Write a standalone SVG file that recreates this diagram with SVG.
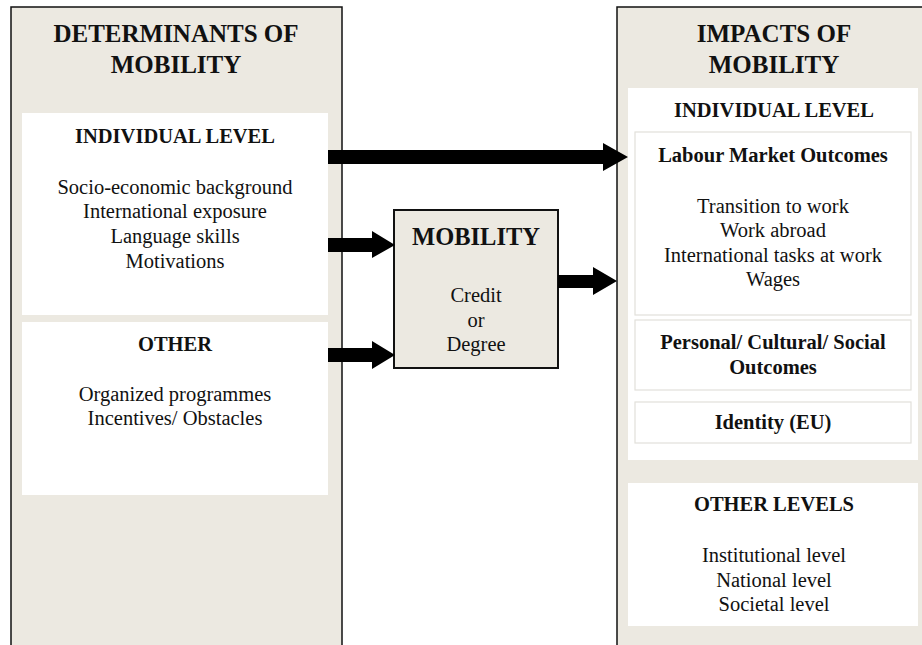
<svg xmlns="http://www.w3.org/2000/svg" width="922" height="645" viewBox="0 0 922 645" font-family="Liberation Serif, serif">
<style>
text{fill:#111;text-anchor:middle}
.t{font-size:25px;font-weight:bold}
.h{font-size:20.5px;font-weight:bold}
.b{font-size:20.5px}
.panel{fill:#ECE9E1;stroke:#111;stroke-width:1.5}
.white{fill:#fff}
.sub{fill:#fff;stroke:#e2e0da;stroke-width:1.2}
.arrow{fill:#000}
</style>
<rect width="922" height="645" fill="#fff"/>
<g id="determinants">
<rect class="panel" x="11" y="7" width="331" height="645"/>
<text class="t" x="176" y="42">DETERMINANTS OF</text>
<text class="t" x="176" y="73">MOBILITY</text>
</g>
<g id="det-individual">
<rect class="white" x="22" y="113" width="306" height="202"/>
<text class="h" x="175" y="143">INDIVIDUAL LEVEL</text>
<text class="b" x="175" y="194">Socio-economic background</text>
<text class="b" x="175" y="218">International exposure</text>
<text class="b" x="175" y="243">Language skills</text>
<text class="b" x="175" y="268">Motivations</text>
</g>
<g id="det-other">
<rect class="white" x="22" y="322" width="306" height="173"/>
<text class="h" x="175" y="351">OTHER</text>
<text class="b" x="175" y="401">Organized programmes</text>
<text class="b" x="175" y="425">Incentives/ Obstacles</text>
</g>
<g id="mobility">
<rect x="394" y="210" width="164" height="158" fill="#ECE9E1" stroke="#111" stroke-width="2"/>
<text x="476" y="245" style="font-size:24.5px;font-weight:bold">MOBILITY</text>
<text class="b" x="476" y="302">Credit</text>
<text class="b" x="476" y="327">or</text>
<text class="b" x="476" y="351">Degree</text>
</g>
<g id="impacts">
<rect class="panel" x="617" y="7" width="320" height="645"/>
<text class="t" x="774" y="42">IMPACTS OF</text>
<text class="t" x="774" y="73">MOBILITY</text>
</g>
<g id="imp-individual">
<rect class="white" x="628" y="88" width="290" height="372"/>
<text class="h" x="774" y="117">INDIVIDUAL LEVEL</text>
</g>
<g id="labour">
<rect class="sub" x="635" y="132" width="276" height="183"/>
<text class="h" x="773" y="162">Labour Market Outcomes</text>
<text class="b" x="773" y="213">Transition to work</text>
<text class="b" x="773" y="237">Work abroad</text>
<text class="b" x="773" y="262">International tasks at work</text>
<text class="b" x="773" y="286">Wages</text>
</g>
<g id="personal">
<rect class="sub" x="635" y="320" width="276" height="70"/>
<text class="h" x="773" y="349">Personal/ Cultural/ Social</text>
<text class="h" x="773" y="374">Outcomes</text>
</g>
<g id="identity">
<rect class="sub" x="635" y="402" width="276" height="41"/>
<text class="h" x="773" y="429">Identity (EU)</text>
</g>
<g id="other-levels">
<rect class="white" x="628" y="483" width="290" height="143"/>
<text class="h" x="774" y="511">OTHER LEVELS</text>
<text class="b" x="774" y="562">Institutional level</text>
<text class="b" x="774" y="587">National level</text>
<text class="b" x="774" y="611">Societal level</text>
</g>
<g id="connectors">
<polygon class="arrow" points="328,150 603,150 603,143 628,157 603,171 603,164 328,164"/>
<polygon class="arrow" points="328,238 372,238 372,231 395,245 372,258 372,252 328,252"/>
<polygon class="arrow" points="328,348 372,348 372,341 395,355 372,369 372,362 328,362"/>
<polygon class="arrow" points="558,275 593,275 593,267 617,281 593,295 593,288 558,288"/>
</g>
</svg>
